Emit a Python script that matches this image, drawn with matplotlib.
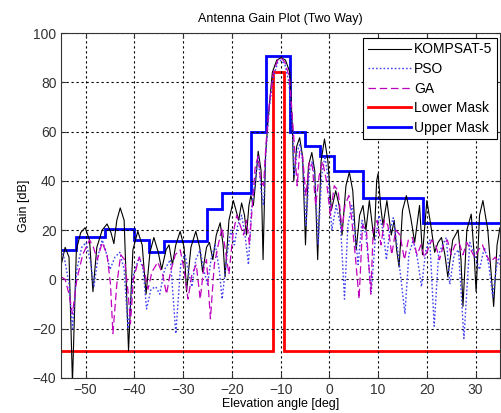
import numpy as np
import matplotlib
matplotlib.use("Agg")
import matplotlib.pyplot as plt

plt.rcParams['font.family'] = ['Liberation Sans', 'DejaVu Sans']

# KOMPSAT-5 pattern (angle deg, gain dB)
k_ang = [-55.0, -54.2, -53.4, -52.7, -51.9, -51.0, -50.1, -49.2, -48.5, -47.7,
         -46.6, -45.6, -44.8, -44.2, -43.6, -42.9, -42.1, -41.2, -40.3, -39.3,
         -38.4, -37.6, -36.8, -36.0, -35.1, -34.4, -33.5, -32.9, -32.2, -31.5,
         -30.6, -29.8, -29.3, -28.4, -27.4, -26.6, -26.0, -25.2, -24.6, -23.9,
         -23.2, -22.4, -21.8, -21.4, -20.6, -19.7, -19.0, -18.6, -18.0, -17.4,
         -17.0, -16.5, -16.1, -15.6, -15.2, -14.6, -14.0, -13.6, -13.1, -12.6,
         -11.7, -10.8, -9.9, -9.0, -8.1, -7.6, -7.3, -6.7, -6.1, -5.5,
         -4.9, -4.3, -3.6, -3.0, -2.4, -1.7, -1.0, -0.3, 0.4, 1.3,
         2.0, 2.6, 3.4, 4.1, 4.8, 5.5, 6.2, 6.9, 7.5, 8.2,
         8.8, 9.2, 9.7, 10.0, 10.5, 11.0, 11.8, 12.7, 13.3, 13.8,
         14.3, 15.0, 15.8, 16.7, 17.5, 18.5, 19.1, 20.0, 20.8, 21.6,
         22.3, 23.0, 23.7, 24.3, 25.3, 26.4, 27.0, 27.4, 28.2, 29.1,
         29.7, 30.1, 30.8, 31.5, 32.5, 33.7, 34.4, 35.0]
k_gain = [6, 13, 9, -42, 12, 19, 21, 16, -5, 13,
          20, 22.5, 19, 14.5, 24, 29, 24, -29, 12, 19.5,
          14, -6, 11, 17, 11, 4, 12, 14, 6, 14,
          19.5, 13, -5, 13, 19.5, 13, 3, 13, 15, 8,
          18, 23, 14, 1, 24, 32, 27, 24, 31, 26,
          18, 30, 34, 30, 38, 52, 44, 8, 50, 64,
          84, 89, 90, 89, 84, 62, 40, 54, 57.5, 50,
          14, 46, 51.5, 44, 8, 48, 57, 48, 28, 36,
          30, 18, 38, 43.5, 36, 12, 26, 30, 20, 32,
          22, 16, 40, 43, 30, 22, 32, 18, 24, 12,
          5, 28, 34, 25, 15, 30, 10, 32, 22, 11,
          15, 17, 10, 1, 16, 20, 8, -11, 20, 26.5,
          10, -5, 26, 32, 20, -11, 14, 21]

# PSO pattern
p_ang = [-55.0, -54.3, -53.4, -52.7, -51.8, -50.8, -49.9, -49.0, -48.3, -47.4,
         -46.6, -45.8, -45.0, -44.0, -43.0, -42.1, -41.3, -40.2, -39.0, -38.2,
         -37.5, -36.6, -35.6, -34.8, -33.8, -32.6, -31.5, -30.5, -29.6, -28.8,
         -28.2, -27.4, -26.5, -25.8, -25.0, -24.2, -23.4, -22.6, -22.0, -21.0,
         -20.2, -19.5, -18.8, -18.0, -17.3, -16.6, -16.0, -15.2, -14.6, -14.0,
         -13.5, -13.0, -12.3, -11.5, -10.6, -9.9, -9.1, -8.3, -7.6, -7.2,
         -6.6, -6.0, -5.4, -4.8, -4.1, -3.5, -2.9, -2.3, -1.6, -0.9,
         -0.2, 0.5, 1.4, 2.3, 3.1, 3.8, 4.6, 5.3, 5.9, 6.7,
         7.5, 8.6, 9.4, 10.2, 11.0, 11.7, 12.4, 13.1, 14.0, 15.5,
         16.3, 17.2, 18.1, 18.9, 19.8, 20.6, 21.5, 22.4, 23.2, 24.0,
         24.7, 25.6, 26.5, 27.6, 28.8, 29.8, 30.8, 31.8, 32.7, 33.5,
         34.3, 35.0]
p_gain = [12, 8, -2, -20, 4, 13, 15, 7, -3, 10,
          16, 11, 4, 9, 11, 4, -20, 2, 9, 4,
          -12, -4, -3, -6, 4, 8, -22, 6, 10, 2,
          -3, 8, 12, 4, -2, 9, 14, 4, -8, 10,
          20, 14, 22, 26, 18, 6, 28, 40, 50, 36,
          30, 52, 70, 82, 88, 89, 87, 80, 62, 42,
          52, 55, 46, 22, 44, 48, 40, 14, 42, 50,
          40, 20, 30, 22, -8, 22, 30, 18, 6, 24,
          18, -5, 16, 26, 20, 8, 20, 25, 12, -14,
          10, 16, 8, -3, 12, 16, -19, 10, 14, 17,
          -2, 10, 12, -24, 15, 10, 4, 13, 6, -7,
          5, 10]

# GA pattern
g_ang = [-55.0, -54.2, -53.4, -52.7, -51.8, -50.6, -49.2, -48.4, -47.6, -46.6,
         -45.6, -44.9, -44.4, -43.6, -42.8, -42.0, -41.3, -40.8, -40.2, -39.0,
         -38.0, -37.2, -36.4, -35.2, -34.2, -33.4, -32.6, -31.6, -30.6, -29.8,
         -29.0, -28.2, -27.3, -26.5, -25.8, -25.2, -24.4, -23.6, -22.8, -22.0,
         -21.2, -20.6, -19.8, -19.0, -18.3, -17.6, -17.0, -16.4, -15.8, -15.2,
         -14.6, -14.1, -13.5, -13.0, -12.3, -11.5, -10.6, -9.9, -9.1, -8.2,
         -7.6, -7.1, -6.6, -6.1, -5.5, -4.8, -4.1, -3.5, -2.8, -2.1,
         -1.4, -0.6, 0.2, 1.0, 1.8, 2.6, 3.2, 4.0, 4.6, 5.3,
         6.1, 6.8, 7.6, 8.5, 9.0, 9.8, 10.6, 11.3, 12.0, 12.8,
         13.6, 14.5, 15.4, 16.2, 17.0, 18.0, 18.8, 19.5, 20.2, 21.0,
         21.8, 22.6, 23.4, 24.2, 25.0, 25.8, 26.6, 27.4, 28.2, 29.0,
         29.8, 30.6, 31.4, 32.2, 33.0, 34.0, 35.0]
g_gain = [1, 0, -6, -14, 0, 10, 16, 13, 8, 15,
          10, -2, -22, -2, 10, 8, -5, -18, 0, 9,
          4, -4, 3, 7, 2, -6, 3, 10, 12, 4,
          -8, 2, 6, -8, 4, 8, -16, 6, 14, 21,
          10, 2, 18, 26, 22, 18, 24, 14, 30, 46,
          50, 40, 38, 55, 72, 84, 89, 90, 88, 82,
          66, 52, 38, 52, 50, 34, 48, 46, 30, 42,
          48, 40, 26, 38, 36, 20, 30, 34, 24, 10,
          -8, 22, 20, -6, 20, 24, 14, 24, 22, 10,
          20, 18, 8, 16, 17, 10, 14, 9, 12, 16,
          14, 8, 14, 16, 10, 14, 15, 10, 15, 12,
          9, 12, 14, 10, 7, 9, 6]

# masks: step edges and levels
low_edges = [-55, -11.6, -9.3, 35]
low_levels = [-29, 84, -29]
up_edges = [-55, -52, -46, -40, -37, -34, -25, -22, -16, -13, -8, -5, -2, 1, 7, 19.3, 35]
up_levels = [12, 17, 20.5, 16, 11, 15.5, 28.5, 35, 60, 90.5, 60, 54, 50, 44, 33, 23]

fig = plt.figure(figsize=(5.02, 4.13), dpi=100)
ax = fig.add_axes([0.122, 0.085, 0.874, 0.835])

ax.plot(k_ang, k_gain, color='k', lw=0.8, label='KOMPSAT-5')
ax.plot(p_ang, p_gain, color=(0.25, 0.25, 0.95), lw=1.0, ls=(0, (1.2, 1.5)), label='PSO')
ax.plot(g_ang, g_gain, color='m', lw=0.9, ls=(0, (6, 3)), label='GA')
ax.stairs(low_levels, low_edges, baseline=None, color='r', lw=2, label='Lower Mask')
ax.stairs(up_levels, up_edges, baseline=None, color='b', lw=2, label='Upper Mask')

ax.set_xlim(-55, 35)
ax.set_ylim(-40, 100)
ax.set_xticks(np.arange(-50, 31, 10))
ax.set_yticks(np.arange(-40, 101, 20))
ax.grid(True, color='k', ls=(0, (2, 2.5)), lw=0.8)
ax.tick_params(direction='in', top=True, right=True, labelsize=10, colors='#333333')
for s in ax.spines.values():
    s.set_color('#333333')

ax.set_title('Antenna Gain Plot (Two Way)', fontsize=9, pad=8)
ax.set_xlabel('Elevation angle [deg]', fontsize=9, labelpad=1)
ax.set_ylabel('Gain [dB]', fontsize=9, labelpad=2)

leg = ax.legend(loc='upper right', fontsize=10, handlelength=3.1, fancybox=False,
                edgecolor='k', framealpha=1, borderpad=0.35, labelspacing=0.4,
                handletextpad=0.2, borderaxespad=0.2, bbox_to_anchor=(1.0, 0.995))
leg.get_frame().set_linewidth(0.8)

plt.savefig('out.png')
